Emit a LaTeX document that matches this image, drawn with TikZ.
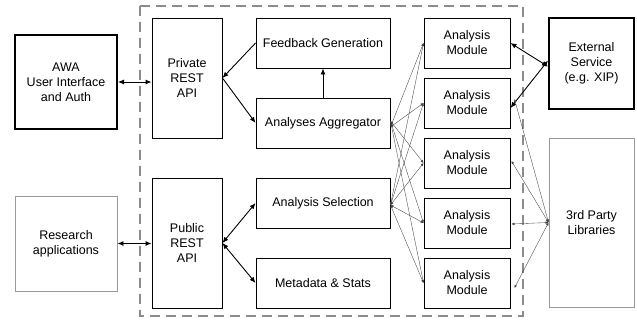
\documentclass[tikz,border=0pt]{standalone}
\usepackage{fontspec}
\setmainfont{Liberation Sans}
\usetikzlibrary{arrows.meta}
\begin{document}
\begin{tikzpicture}[x=1pt,y=-1pt,
  every node/.style={font=\fontsize{12.5}{15}\selectfont, align=center, inner sep=0pt},
  box/.style={draw=black, line width=0.9pt, rectangle},
  thickbox/.style={draw=black, line width=2pt, rectangle},
  graybox/.style={draw=black!40, line width=0.9pt, rectangle},
  bigarrow/.style={line width=0.9pt, {Latex[length=6pt,width=5pt]}-{Latex[length=6pt,width=5pt]}},
  onearrow/.style={line width=0.9pt, -{Latex[length=6pt,width=5pt]}},
  thinarrow/.style={line width=0.35pt, draw=black!75, {Latex[length=3pt,width=2.5pt]}-{Latex[length=3pt,width=2.5pt]}},
  dashbox/.style={draw=black!45, line width=1.4pt, dash pattern=on 10pt off 6pt}
]
\useasboundingbox (0,0) rectangle (637,322);
\draw[dashbox] (140,6) rectangle (523,316);

\node[thickbox, minimum width=102pt, minimum height=94pt] (awa) at (66,82) {AWA\\User Interface\\and Auth};
\node[box, minimum width=70pt, minimum height=120pt] (priv) at (187,78) {Private\\REST\\API};
\node[box, minimum width=134pt, minimum height=50pt] (fb) at (323,43) {Feedback Generation};
\node[box, minimum width=134pt, minimum height=50pt] (agg) at (323,123) {Analyses Aggregator};
\node[box, minimum width=70pt, minimum height=130pt] (pub) at (187,243) {Public\\REST\\API};
\node[box, minimum width=134pt, minimum height=50pt] (sel) at (323,203) {Analysis Selection};
\node[box, minimum width=134pt, minimum height=50pt] (meta) at (323,283) {Metadata \& Stats};
\node[graybox, minimum width=102pt, minimum height=95pt] (res) at (66,243.5) {Research\\applications};

\foreach \i/\y in {1/43,2/103,3/163,4/223,5/283}{
  \node[box, minimum width=86pt, minimum height=50pt] (m\i) at (467,\y) {Analysis\\Module};
}
\node[thickbox, minimum width=85pt, minimum height=91pt] (ext) at (591.5,63.5) {External\\Service\\(e.g. XIP)};
\node[graybox, minimum width=85pt, minimum height=169pt] (lib) at (591.5,222.5) {3rd Party\\Libraries};

% main connectors
\draw[bigarrow] (awa.east) -- (awa.east -| priv.west);
\draw[bigarrow] (res.east) -- (res.east -| pub.west);
\draw[onearrow] (fb.west) -- (priv.east);
\draw[onearrow] (priv.east) -- (agg.west);
\draw[onearrow] (agg.north) -- (fb.south);
\draw[bigarrow] (pub.east) -- (sel.west);
\draw[bigarrow] (pub.east) -- (meta.west);
\draw[bigarrow] (m1.east) -- ([yshift=-3pt]ext.west);
\draw[bigarrow] ([yshift=-5pt]m2.east) -- ([yshift=3pt]ext.west);

% thin connectors
\foreach \i in {1,2}{
  \draw[thinarrow] ([yshift=-4pt]agg.east) -- (m\i.west);
}
\foreach \i in {3,4,5}{
  \draw[thinarrow] ([yshift=2pt]agg.east) -- (m\i.west);
}
\foreach \i in {1,2,3,4,5}{
  \draw[thinarrow] ([yshift=-2pt]sel.east) -- (m\i.west);
}
\draw[thinarrow] ([xshift=4pt,yshift=4pt]m2.east) -- (lib.west);
\draw[thinarrow] ([xshift=1pt,yshift=2pt]m3.east) -- (lib.west);
\draw[thinarrow] ([xshift=1pt,yshift=-1pt]m4.east) -- (lib.west);
\draw[thinarrow] ([xshift=4pt,yshift=-5pt]m5.east) -- (lib.west);
\end{tikzpicture}
\end{document}
